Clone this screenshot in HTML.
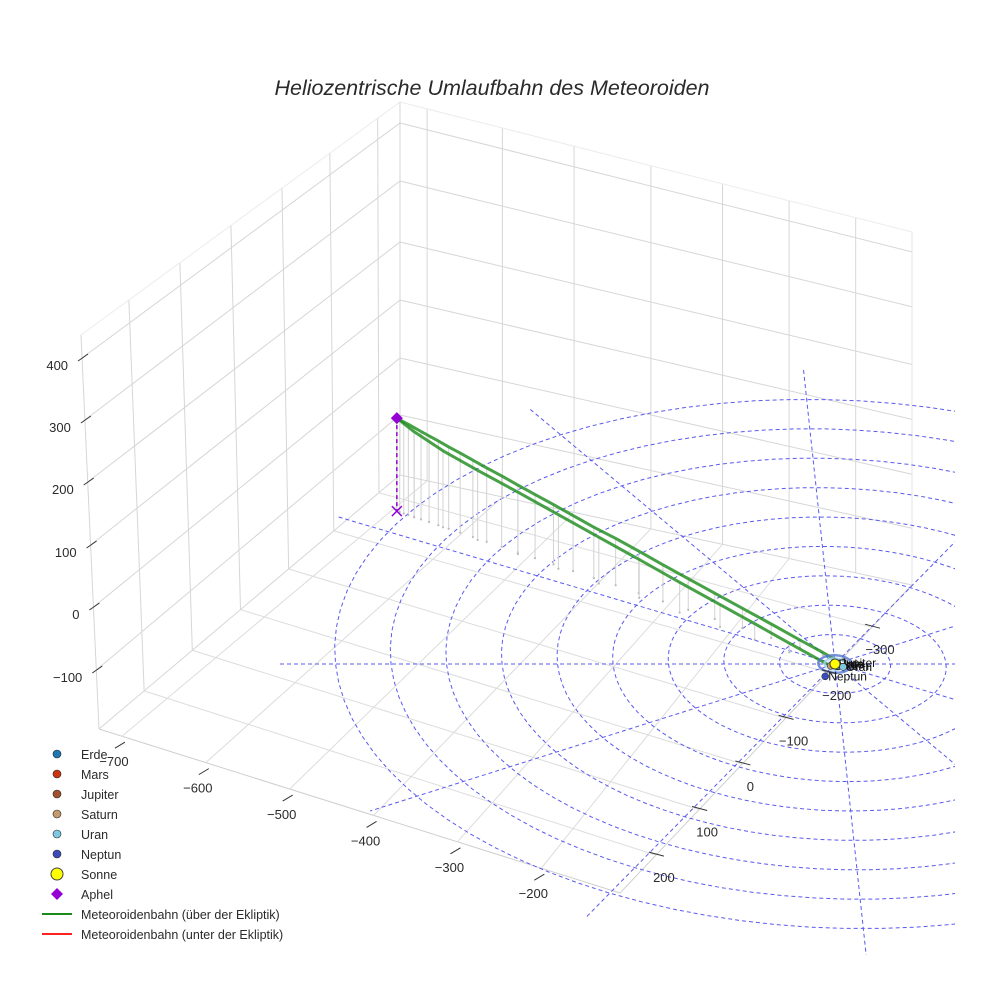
<!DOCTYPE html>
<html><head><meta charset="utf-8">
<style>
html,body{margin:0;padding:0;background:#fff;}
svg{display:block;font-family:"Liberation Sans",sans-serif;}
</style></head>
<body>
<svg id="chart" width="984" height="984" viewBox="0 0 984 984">
<defs><clipPath id="clip"><rect x="0" y="0" width="955" height="955"/></clipPath></defs>
<text x="492" y="95" text-anchor="middle" font-size="21.5" font-style="italic" fill="#2a2a2a">Heliozentrische Umlaufbahn des Meteoroiden</text>
<g id="grid"></g>
<g id="ecl" clip-path="url(#clip)"></g>
<g id="drops"></g>
<g id="orbit"></g>
<g id="planets"></g>
<g id="axes"></g>
<g id="legend"></g>
</svg>
<script>
// ---- data ----
const upperX=[-760,-755,-748,-740,-730,-718,-704,-688,-670,-650,-628,-604,-578,-550,-520,-488,-454,-418,-380,-340,-298,-254,-208,-160,-110,-60,-20,0,8];
const upperY=[-520,-517,-512,-507,-500,-492,-483,-472,-460,-447,-432,-416,-399,-380,-360,-339,-316,-292,-268,-241,-213,-184,-153,-122,-89,-56,-30,-15,0];
const upperZ=[310,308,305,302,298,293,287,281,273,265,256,246,236,224,212,199,185,170,156,140,122,104,86,66,46,25,9,1,0];
const lowerX=[8,0,-30,-80,-140,-200,-270,-340,-410,-480,-550,-620,-680,-730,-760];
const lowerY=[0,15,-5,-40,-83,-126,-175,-225,-274,-324,-374,-422,-465,-499,-520];
const lowerZ=[0,-1,11,30,53,75,101,128,154,180,206,232,255,285,310];
const planetNames=["Erde","Mars","Jupiter","Saturn","Uran","Neptun"];
const planetX=[1,-1.2,4,-8,14,-20];
const planetY=[0,1.5,-3,6,10,42];
const planetColors=["#1f77b4","#cc3311","#a0522d","#c49a6c","#7ec8e3","#3b4cb8"];
const orbitRadii=[19,30];
const ringRadii=[100,200,300,400,500,600,700,800,900];
const radialAngles=[0,30,60,90,120,150];
const zTicks=["400","300","200","100","0","\u2212100"];
const xTicks=["\u2212700","\u2212600","\u2212500","\u2212400","\u2212300","\u2212200"];
const yTicks=["\u2212300","\u2212200","\u2212100","0","100","200"];
const aphel=[-760,-520,310];

const NS="http://www.w3.org/2000/svg";
function mk(tag,attrs,parent){const e=document.createElementNS(NS,tag);for(const k in attrs)e.setAttribute(k,attrs[k]);parent.appendChild(e);return e;}
function P(x,y,z){const dy=y*0.294;return [835+x*0.555+0.107*dy,664+dy-z*0.3];}
function lerp(a,b,t){return [a[0]+(b[0]-a[0])*t,a[1]+(b[1]-a[1])*t];}
function line(g,a,b,st,w,name){const l=mk('line',{x1:a[0],y1:a[1],x2:b[0],y2:b[1],stroke:st,'stroke-width':w||1},g);

return l;}

// ---- box grid ----
const G=document.getElementById('grid');
const FL=[99,729],FR=[620,893],BR=[912,585],BL=[400,475];
const LT=[81,335],BT=[400,102],RT=[912,232];
const gc="#d6d6d6";
const wf=[0.15,0.31,0.47,0.63,0.78,0.93];
wf.forEach(f=>line(G,lerp(LT,BT,f),lerp(FL,BL,f),gc));
const zl=[358,420,482,545,607,670], zc=[123,181,242,300,358,415];
zl.forEach((y,i)=>{const xl=81+(y-335)/(729-335)*18;line(G,[xl,y],[400,zc[i]],gc);
 const t=(zc[i]-102)/(475-102);line(G,[400,zc[i]],[912,zc[i]+130-20*t],gc);});
const bf=[0.053,0.2,0.34,0.49,0.63,0.76,0.89];
bf.forEach(f=>line(G,lerp(BT,RT,f),lerp(BL,BR,f),gc));
line(G,LT,BT,"#ececec");line(G,BT,RT,"#ececec");line(G,LT,FL,gc);line(G,BT,BL,gc);line(G,RT,BR,"#e4e4e4");
line(G,FL,FR,"#cfcfcf");line(G,FR,BR,"#cfcfcf");line(G,BL,BR,gc);line(G,FL,BL,gc);
const lf=[0.123,0.271,0.419,0.567,0.715,0.863];
lf.forEach((f,i)=>line(G,lerp(FL,BL,wf[i]),lerp(FR,BR,f),"#dcdcdc"));
const ff=[0.044,0.205,0.366,0.527,0.688,0.849];
ff.forEach((f,i)=>line(G,lerp(FL,FR,f),lerp(BL,BR,bf[i]),"#dcdcdc"));

// ---- ecliptic rings ----
const E=document.getElementById('ecl');
ringRadii.forEach(r=>{let pts=[];for(let a=0;a<=360;a+=4){const t=a*Math.PI/180;const p=P(r*Math.cos(t),r*Math.sin(t),0);pts.push(p[0].toFixed(1)+','+p[1].toFixed(1));}
 const pl=mk('polyline',{points:pts.join(' '),fill:'none',stroke:'#5a5aee','stroke-width':1,'stroke-dasharray':'4 3'},E);
 
 });
radialAngles.forEach(d=>{const t=d*Math.PI/180;const a=P(-1000*Math.cos(t),-1000*Math.sin(t),0),b=P(1000*Math.cos(t),1000*Math.sin(t),0);
 const l=line(E,a,b,'#5a5aee',1,'ecliptic-radial');l.setAttribute('stroke-dasharray','4 3');});

// ---- drop lines ----
const D=document.getElementById('drops');
function drops(X,Y,Z){for(let i=0;i<X.length;i++){if(Math.abs(Z[i])<5)continue;const a=P(X[i],Y[i],Z[i]),b=P(X[i],Y[i],0);
 line(D,a,b,'#d2d2d2',1,'drop-line');
 const c=mk('circle',{cx:b[0],cy:b[1],r:1.1,fill:'#bbb'},D);
 
 }}
drops(upperX,upperY,upperZ);drops(lowerX,lowerY,lowerZ);

// ---- orbit ----
const O=document.getElementById('orbit');
function path(X,Y,Z,name){const pts=X.map((x,i)=>P(x,Y[i],Z[i]).map(v=>v.toFixed(1)).join(','));
 const pl=mk('polyline',{points:pts.join(' '),fill:'none',stroke:'#1e8c1e','stroke-width':3,'stroke-opacity':0.82,'stroke-linejoin':'round'},O);
 
 }
path(upperX,upperY,upperZ,'orbit-upper-branch');path(lowerX,lowerY,lowerZ,'orbit-lower-branch');
const ap=P(aphel[0],aphel[1],aphel[2]),ag=P(aphel[0],aphel[1],0);
const al=line(O,ap,ag,'#9400d3',1.5,'aphel-drop');al.setAttribute('stroke-dasharray','4 3');
const dm=mk('path',{d:`M${ap[0]},${ap[1]-6} l6,6 l-6,6 l-6,-6z`,fill:'#9400d3'},O);


const xm=mk('path',{d:`M${ag[0]-5},${ag[1]-5} l10,10 M${ag[0]+5},${ag[1]-5} l-10,10`,stroke:'#9400d3','stroke-width':1.5},O);



// ---- planets ----
const PL=document.getElementById('planets');
orbitRadii.forEach((r,i)=>{let pts=[];for(let a=0;a<=360;a+=10){const t=a*Math.PI/180;const p=P(r*Math.cos(t),r*Math.sin(t),0);pts.push(p.join(','));}
 const pl=mk('polyline',{points:pts.join(' '),fill:'none',stroke:i?'#5577cc':'#9fd3ec','stroke-width':2.5,'stroke-opacity':0.8},PL);
 
 });
planetNames.forEach((n,i)=>{const p=P(planetX[i],planetY[i],0);
 const c=mk('circle',{cx:p[0],cy:p[1],r:3.5,fill:planetColors[i],stroke:'#222','stroke-width':0.5},PL);
 
 
 const t=mk('text',{x:p[0]+3,y:p[1]+4,'font-size':12,fill:'#111'},PL);t.textContent=n;
 
 });
const sp=P(0,0,0);
const sun=mk('circle',{cx:sp[0],cy:sp[1],r:5,fill:'#ffff00',stroke:'#444','stroke-width':1},PL);



// ---- axis labels ----
const A=document.getElementById('axes');
function txt(g,x,y,s,anchor,name){const t=mk('text',{x:x,y:y,'font-size':13,fill:'#2a2a2a','text-anchor':anchor||'middle'},g);t.textContent=s;
 
 }
zTicks.forEach((s,i)=>{const y=zl[i];const xl=81+(y-335)/(729-335)*18;
 line(A,[xl-4,y+3],[xl+6,y-4],'#333',1,'z-tick');txt(A,xl-14,y+12,s,'end','z-tick-label');});
xTicks.forEach((s,i)=>{const p=lerp(FL,FR,ff[i]);line(A,[p[0]+3,p[1]+6],[p[0]-7,p[1]+12],'#333',1,'x-tick');
 txt(A,p[0]-8,p[1]+30,s,'middle','x-tick-label');});
yTicks.forEach((s,i)=>{const p=lerp(FR,BR,lf[5-i]);line(A,[p[0]-7,p[1]-3],[p[0]+8,p[1]+1],'#333',1,'y-tick');
 txt(A,p[0]+8,p[1]+27,s,'middle','y-tick-label');});

// ---- legend ----
const L=document.getElementById('legend');
const legNames=["Erde","Mars","Jupiter","Saturn","Uran","Neptun","Sonne","Aphel","Meteoroidenbahn (über der Ekliptik)","Meteoroidenbahn (unter der Ekliptik)"];
legNames.forEach((n,i)=>{const y=754+i*20;let m;
 if(i<6){m=mk('circle',{cx:57,cy:y,r:4,fill:planetColors[i],stroke:'#222','stroke-width':0.6},L);}
 else if(i===6){m=mk('circle',{cx:57,cy:y,r:6,fill:'#ffff00',stroke:'#444','stroke-width':1},L);}
 else if(i===7){m=mk('path',{d:`M57,${y-6} l6,6 l-6,6 l-6,-6z`,fill:'#9400d3'},L);}
 else{m=mk('line',{x1:42,y1:y,x2:72,y2:y,stroke:i===8?'#1a8a1a':'#ff2020','stroke-width':2},L);}
 
 
 const t=mk('text',{x:81,y:y+5,'font-size':12.5,fill:'#2a2a2a'},L);t.textContent=n;
 
 });
</script>
</body></html>
